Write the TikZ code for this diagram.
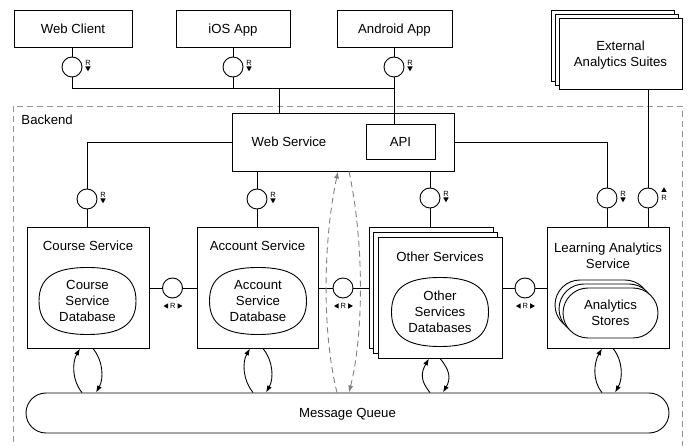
\documentclass[tikz,border=0pt]{standalone}
\usepackage{fontspec}
\setmainfont{Liberation Sans}
\usetikzlibrary{shapes.misc,shapes.geometric,arrows.meta,calc}
\newcommand{\mainfs}{\fontsize{13.2}{16}\selectfont}
\newcommand{\superell}[2][0.69]{%
  \draw (#2.north) .. controls ($(#2.north)!#1!(#2.north east)$) and ($(#2.east)!#1!(#2.north east)$) .. (#2.east)
    .. controls ($(#2.east)!#1!(#2.south east)$) and ($(#2.south)!#1!(#2.south east)$) .. (#2.south)
    .. controls ($(#2.south)!#1!(#2.south west)$) and ($(#2.west)!#1!(#2.south west)$) .. (#2.west)
    .. controls ($(#2.west)!#1!(#2.north west)$) and ($(#2.north)!#1!(#2.north west)$) .. (#2.north) -- cycle;}
\tikzset{
  box/.style={draw, fill=white, inner sep=0pt, align=center, font=\mainfs},
  oneline/.style={text height=9.5pt, text depth=0pt},
  lbl/.style={inner sep=0pt, align=center, font=\mainfs},
  iface/.style={draw, fill=white, circle, minimum size=20pt, inner sep=0pt},
  db/.style={rectangle, inner sep=0pt, outer sep=0pt, minimum width=97pt, align=center, font=\mainfs},
  store/.style={draw, fill=white, rounded corners=25pt, minimum width=95pt, minimum height=50pt, inner sep=0pt, align=center, font=\mainfs},
  flow/.style={-{Latex[length=7pt,width=5pt]}},
  async/.style={draw=gray, dash pattern=on 6pt off 4pt, -{Latex[length=7pt,width=5pt,fill=gray]}},
  backendline/.style={draw=gray!85, dash pattern=on 6pt off 4pt},
  rfont/.style={inner sep=0pt, font=\fontsize{7.5}{7.5}\selectfont},
  rdown/.pic={\node[rfont] (-r) at (0,-4.5) {R}; \fill (-2.7,-0.5)--(2.7,-0.5)--(0,4.3)--cycle;},
  rup/.pic={\fill (-2.7,-6)--(2.7,-6)--(0,-10.8)--cycle; \node[rfont] (-r) at (0,-0.5) {R};},
  rboth/.pic={\node[rfont] (-r) at (0,0) {R};
    \fill (-9.3,0)--(-4.6,-2.7)--(-4.6,2.7)--cycle;
    \fill (9.6,0)--(4.9,-2.7)--(4.9,2.7)--cycle;},
}
\begin{document}
\begin{tikzpicture}[x=1pt,y=-1pt,line width=0.9pt]
\useasboundingbox (0,0) rectangle (689,446);
\fill[white] (0,0) rectangle (689,446);

% backend frame
\draw[backendline] (13,452) -- (13,106) -- (682,106) -- (682,452);
\node[lbl, oneline, anchor=west] (backendlabel) at (21,120) {Backend};

% clients
\node[box, oneline, minimum width=118pt, minimum height=37pt] (webclient) at (73,28.5) {Web Client};
\node[box, oneline, minimum width=114pt, minimum height=37pt] (ios) at (233,28.5) {iOS App};
\node[box, oneline, minimum width=115pt, minimum height=37pt] (android) at (394.5,28.5) {Android App};

% external analytics
\node[box, minimum width=123pt, minimum height=71pt] (extback) at (612.5,45.5) {};
\node[box, minimum width=123pt, minimum height=71pt] (extmid) at (616.5,49.5) {};
\node[box, minimum width=123pt, minimum height=71pt] (ext) at (620.5,53.5) {};
\node[lbl] (exttext) at (620.5,55.5) {External\\Analytics Suites};

% web service
\node[box, minimum width=222pt, minimum height=58pt] (websvc) at (343,142) {};
\node[lbl, oneline] (wstitle) at (289,142) {Web Service};
\node[box, oneline, minimum width=69pt, minimum height=35pt] (api) at (400.5,141.5) {API};

% services
\node[box, minimum width=122pt, minimum height=121pt] (course) at (88,287.5) {};
\node[lbl, oneline] (coursetitle) at (88,246) {Course Service};
\node[db, minimum height=67pt] (coursedb) at (87.5,301) {Course\\Service\\Database};
\superell{coursedb}

\node[box, minimum width=121pt, minimum height=121pt] (account) at (257.5,287.5) {};
\node[lbl, oneline] (accounttitle) at (257.5,246) {Account Service};
\node[db, minimum height=67pt] (accountdb) at (258,301) {Account\\Service\\Database};
\superell{accountdb}

\node[box, minimum width=124pt, minimum height=121pt] (otherback) at (431,287.5) {};
\node[box, minimum width=124pt, minimum height=121pt] (othermid) at (435.5,292.5) {};
\node[box, minimum width=124pt, minimum height=121pt] (other) at (440,297.5) {};
\node[lbl, oneline] (othertitle) at (440,257) {Other Services};
\node[db, minimum height=69pt] (otherdb) at (440,312) {Other\\Services\\Databases};
\superell{otherdb}

\node[box, minimum width=122pt, minimum height=121pt] (learning) at (608,287.5) {};
\node[lbl] (learningtitle) at (608,256) {Learning Analytics\\Service};
\node[store] (storesback) at (602.5,305) {};
\node[store] (storesmid) at (606.5,309) {};
\node[store] (stores) at (610.5,313) {Analytics\\Stores};

% message queue
\node[draw, fill=white, rounded rectangle, minimum width=643pt, minimum height=40pt, inner sep=0pt, font=\mainfs, oneline] (queue) at (347.5,413) {Message Queue};

% interface circles
\node[iface] (cc1) at (72,67) {};
\node[iface] (cc2) at (233,67) {};
\node[iface] (cc3) at (394,67) {};
\node[iface] (bc1) at (87,199) {};
\node[iface] (bc2) at (257,199) {};
\node[iface] (bc3) at (430,198) {};
\node[iface] (bc4) at (607,198) {};
\node[iface] (bc5) at (648,198) {};
\node[iface] (hc1) at (172.5,288) {};
\node[iface] (hc2) at (343,288) {};
\node[iface] (hc3) at (525,288) {};

\coordinate (bus) at (279,88);

% client connectors
\draw (webclient.south -| cc1) -- (cc1) -- (cc1 |- bus) -- (cc3 |- bus);
\draw (ios.south -| cc2) -- (cc2) -- (cc2 |- bus);
\draw (android.south -| cc3) -- (cc3) -- (cc3 |- api.north);
\draw (bus) -- (bus |- websvc.north);

% backend connectors
\draw (websvc.west) -| (bc1);
\draw (bc1) -- (bc1 |- course.north);
\draw (websvc.south -| bc2) -- (bc2) -- (bc2 |- account.north);
\draw (websvc.south -| bc3) -- (bc3) -- (bc3 |- otherback.north);
\draw (websvc.east) -| (bc4);
\draw (bc4) -- (bc4 |- learning.north);
\draw (ext.south -| bc5) -- (bc5) -- (bc5 |- learning.north);

% horizontal connectors
\draw (course.east |- hc1) -- (hc1) -- (hc1 -| account.west);
\draw (account.east |- hc2) -- (hc2) -- (hc2 -| otherback.west);
\draw (other.east |- hc3) -- (hc3) -- (hc3 -| learning.west);

% R labels
\pic (p1) at ($(cc1)+(16,0)$) {rdown};
\pic (p2) at ($(cc2)+(16,0)$) {rdown};
\pic (p3) at ($(cc3)+(16,0)$) {rdown};
\pic (p4) at ($(bc1)+(16,0)$) {rdown};
\pic (p5) at ($(bc2)+(16,0)$) {rdown};
\pic (p6) at ($(bc3)+(16,0)$) {rdown};
\pic (p7) at ($(bc4)+(16,0)$) {rdown};
\pic (p8) at ($(bc5)+(16,0)$) {rup};
\pic (p9) at ($(hc1)+(0.3,18)$) {rboth};
\pic (p10) at ($(hc2)+(0.3,18)$) {rboth};
\pic (p11) at ($(hc3)+(0.3,18)$) {rboth};

% service <-> queue curved arrows
\foreach \s/\tl/\bl/\tr/\br in {course/-8/-6/5/8, account/-7.5/-4.5/5.5/8.5, other/-11/-10/0/3, learning/-6/-6/5/7}{
  \draw[flow] ($(\s.south |- queue.north)+(\bl,0)$) .. controls +(-10,-12) and +(-8,14) .. ($(\s.south)+(\tl,0)$);
  \draw[flow] ($(\s.south)+(\tr,0)$) .. controls +(10,12) and +(8,-14) .. ($(\s.south |- queue.north)+(\br,0)$);
}

% async dashed lens between web service and queue
\draw[async] ($(websvc.south |- queue.north)+(-6,0)$) .. controls +(-15,-60) and +(-15,70) .. ($(websvc.south)+(-5,0)$);
\draw[async] ($(websvc.south)+(6,0)$) .. controls +(15,70) and +(15,-60) .. ($(websvc.south |- queue.north)+(6,0)$);
\end{tikzpicture}
\end{document}
